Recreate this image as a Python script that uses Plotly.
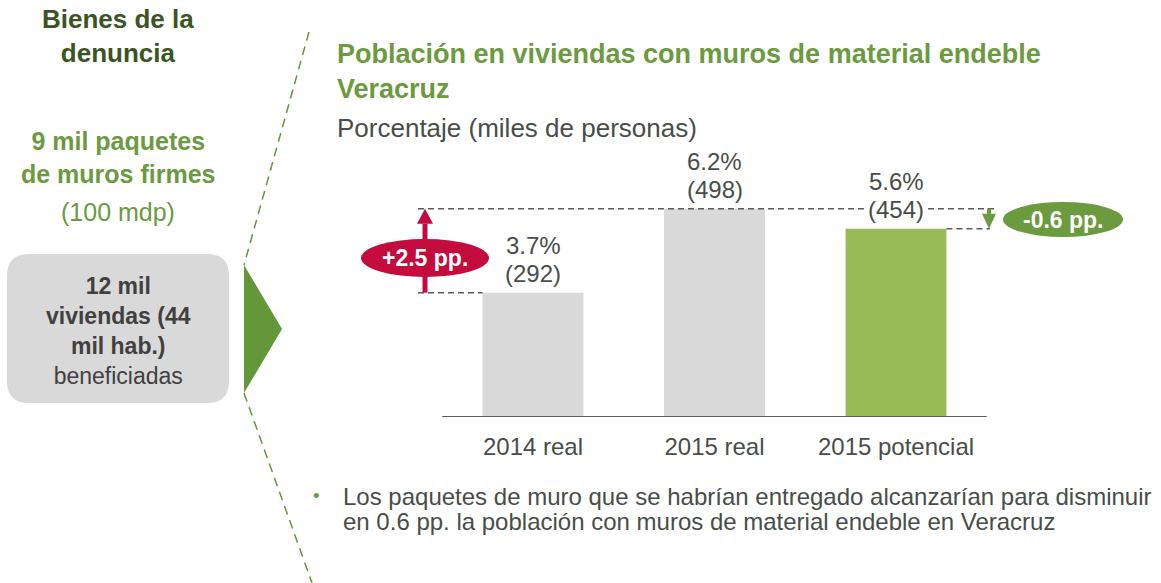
import plotly.graph_objects as go

# ---------------- data ----------------
categories = ["2014 real", "2015 real", "2015 potencial"]
pct = [3.7, 6.2, 5.6]          # porcentaje
miles = [292, 498, 454]        # miles de personas
title_lines = ["Población en viviendas con muros de material endeble", "Veracruz"]
subtitle = "Porcentaje (miles de personas)"
bullet_lines = [
    "Los paquetes de muro que se habrían entregado alcanzarían para disminuir",
    "en 0.6 pp. la población con muros de material endeble en Veracruz",
]

# ---------------- styles ----------------
W, H = 1161, 583
FONT = "Liberation Sans, Arial, sans-serif"
GRAY_TXT = "#474e47"
GREEN = "#6b9a3f"
DARK_GREEN = "#3b5424"
RED = "#c30b3e"
BAR_COLORS = ["#d9d9d9", "#d9d9d9", "#9bbb59"]

X0PX, XS = 533.0, 181.5     # pixel of category 0, px per category
Y0PX, YS = 417.0, 33.6      # pixel of baseline, px per unit


def px2x(p):
    return (p - X0PX) / XS


def px2y(p):
    return (Y0PX - p) / YS


def px(p):
    return p / W


def py(p):
    # paper coords span the plot area: top of figure (0 px) to baseline (Y0PX)
    return 1 - p / Y0PX


xs = list(range(len(categories)))

fig = go.Figure()
fig.add_trace(go.Bar(
    x=xs, y=pct, width=0.556,
    marker=dict(color=BAR_COLORS, line=dict(width=0)),
    hoverinfo="skip",
))

shapes = []
annotations = []

# baseline
shapes.append(dict(type="line", xref="x", yref="y", x0=-0.5, x1=2.5, y0=0, y1=0,
                   line=dict(color="#5a5f5a", width=1.8)))

dash = dict(color="#5a5a5a", width=1.5, dash="6px,4px")
# dashed reference lines
shapes.append(dict(type="line", xref="x", yref="y", x0=px2x(418), x1=px2x(995),
                   y0=pct[1], y1=pct[1], line=dash))
shapes.append(dict(type="line", xref="x", yref="y", x0=px2x(418), x1=xs[0] - 0.278,
                   y0=pct[0], y1=pct[0], line=dash))
shapes.append(dict(type="line", xref="x", yref="y", x0=xs[2] + 0.278, x1=px2x(990),
                   y0=pct[2], y1=pct[2], line=dash))

# red arrow (up)
ax = px2x(425)
head = 15 / YS
shapes.append(dict(type="line", xref="x", yref="y", x0=ax, x1=ax, y0=pct[0],
                   y1=pct[1] - head, line=dict(color=RED, width=5)))
shapes.append(dict(type="path", xref="x", yref="y",
                   path=f"M {px2x(417)} {pct[1]-head} L {px2x(433)} {pct[1]-head} L {ax} {pct[1]} Z",
                   fillcolor=RED, line=dict(width=0)))
# green arrow (down)
gx = px2x(989)
ghead = 15 / YS
shapes.append(dict(type="line", xref="x", yref="y", x0=gx, x1=gx, y0=pct[1],
                   y1=pct[2] + ghead, line=dict(color=GREEN, width=4)))
shapes.append(dict(type="path", xref="x", yref="y",
                   path=f"M {px2x(982)} {pct[2]+ghead} L {px2x(996)} {pct[2]+ghead} L {gx} {pct[2]} Z",
                   fillcolor=GREEN, line=dict(width=0)))

# ellipses
shapes.append(dict(type="circle", xref="x", yref="y", x0=px2x(361), x1=px2x(489),
                   y0=px2y(277), y1=px2y(239), fillcolor=RED, line=dict(width=0)))
shapes.append(dict(type="circle", xref="x", yref="y", x0=px2x(1003), x1=px2x(1123),
                   y0=px2y(237), y1=px2y(202), fillcolor=GREEN, line=dict(width=0)))
annotations.append(dict(xref="x", yref="y", x=px2x(425), y=px2y(258),
                        text=f"<b>{pct[1]-pct[0]:+.1f} pp.</b>", showarrow=False,
                        font=dict(family=FONT, size=23, color="white")))
annotations.append(dict(xref="x", yref="y", x=px2x(1063), y=px2y(219.5),
                        text=f"<b>{pct[2]-pct[1]:+.1f} pp.</b>", showarrow=False,
                        font=dict(family=FONT, size=23, color="white")))

# value labels
for i in xs:
    annotations.append(dict(xref="x", yref="y", x=i, y=pct[i], yshift=47,
                            text=f"{pct[i]:.1f}%", showarrow=False, bgcolor="white",
                            font=dict(family=FONT, size=24, color=GRAY_TXT)))
    annotations.append(dict(xref="x", yref="y", x=i, y=pct[i], yshift=19,
                            text=f"({miles[i]})", showarrow=False, bgcolor="white",
                            borderpad=2,
                            font=dict(family=FONT, size=24, color=GRAY_TXT)))

# title & subtitle
annotations.append(dict(xref="paper", yref="paper", x=px(335), y=py(71.5),
                        xanchor="left", yanchor="middle", align="left", showarrow=False,
                        text="<b>" + "<br>".join(title_lines) + "</b>",
                        font=dict(family=FONT, size=27, color=GREEN)))
annotations.append(dict(xref="paper", yref="paper", x=px(335), y=py(128),
                        xanchor="left", yanchor="middle", showarrow=False,
                        text=subtitle, font=dict(family=FONT, size=26, color=GRAY_TXT)))

# bullet text
annotations.append(dict(xref="paper", yref="paper", x=px(316), y=py(495),
                        xanchor="center", yanchor="middle", showarrow=False,
                        text="•", font=dict(family=FONT, size=19, color=GREEN)))
for k, line in enumerate(bullet_lines):
    annotations.append(dict(xref="paper", yref="paper", x=px(341), y=py(496 + 25 * k),
                            xanchor="left", yanchor="middle", showarrow=False,
                            text=line, font=dict(family=FONT, size=24, color=GRAY_TXT)))

# ---------------- left panel ----------------
annotations.append(dict(xref="paper", yref="paper", x=px(118), y=py(36),
                        xanchor="center", yanchor="middle", showarrow=False,
                        text="<b>Bienes de la<br>denuncia</b>",
                        font=dict(family=FONT, size=26, color=DARK_GREEN)))
annotations.append(dict(xref="paper", yref="paper", x=px(118), y=py(157.5),
                        xanchor="center", yanchor="middle", showarrow=False,
                        text="<b>9 mil paquetes<br>de muros firmes</b>",
                        font=dict(family=FONT, size=25, color=GREEN)))
annotations.append(dict(xref="paper", yref="paper", x=px(118), y=py(212),
                        xanchor="center", yanchor="middle", showarrow=False,
                        text="(100 mdp)", font=dict(family=FONT, size=25, color=GREEN)))

# rounded grey box
bx0, bx1, by0, by1, r = 7, 229, 254, 403, 22
box_path = (
    f"M {px(bx0+r)} {py(by0)} L {px(bx1-r)} {py(by0)} "
    f"Q {px(bx1)} {py(by0)} {px(bx1)} {py(by0+r)} L {px(bx1)} {py(by1-r)} "
    f"Q {px(bx1)} {py(by1)} {px(bx1-r)} {py(by1)} L {px(bx0+r)} {py(by1)} "
    f"Q {px(bx0)} {py(by1)} {px(bx0)} {py(by1-r)} L {px(bx0)} {py(by0+r)} "
    f"Q {px(bx0)} {py(by0)} {px(bx0+r)} {py(by0)} Z"
)
shapes.append(dict(type="path", xref="paper", yref="paper", path=box_path,
                   fillcolor="#d9d9d9", line=dict(width=0)))
annotations.append(dict(xref="paper", yref="paper", x=px(118), y=py(330.5),
                        xanchor="center", yanchor="middle", showarrow=False,
                        text="<b>12 mil</b><br><b>viviendas (44</b><br><b>mil hab.)</b><br>beneficiadas",
                        font=dict(family=FONT, size=23, color="#3f403f")))

# triangle & dashed diagonal lines
shapes.append(dict(type="path", xref="paper", yref="paper",
                   path=f"M {px(244)} {py(265)} L {px(282)} {py(329)} L {px(244)} {py(393)} Z",
                   fillcolor="#64973a", line=dict(width=0)))
gdash = dict(color="#64973a", width=1.5, dash="9px,6px")
shapes.append(dict(type="line", xref="paper", yref="paper", x0=px(309), y0=py(32),
                   x1=px(244), y1=py(265), line=gdash))
shapes.append(dict(type="line", xref="paper", yref="paper", x0=px(244), y0=py(393),
                   x1=px(312), y1=py(583), line=gdash))

fig.update_layout(
    width=W, height=H, autosize=False,
    margin=dict(l=0, r=0, t=0, b=H - Y0PX),
    paper_bgcolor="white", plot_bgcolor="rgba(0,0,0,0)",
    showlegend=False,
    xaxis=dict(range=[-X0PX / XS, (W - X0PX) / XS], tickvals=xs, ticktext=categories,
               showgrid=False, zeroline=False, showline=False,
               ticks="outside", ticklen=8, tickcolor="rgba(0,0,0,0)",
               tickfont=dict(family=FONT, size=24, color=GRAY_TXT), fixedrange=True),
    yaxis=dict(range=[0, Y0PX / YS], visible=False, fixedrange=True),
    shapes=shapes, annotations=annotations,
)

fig.write_html("out.html", config={"displayModeBar": False},
               post_script="document.body.style.margin='0';document.body.style.overflow='hidden';")
